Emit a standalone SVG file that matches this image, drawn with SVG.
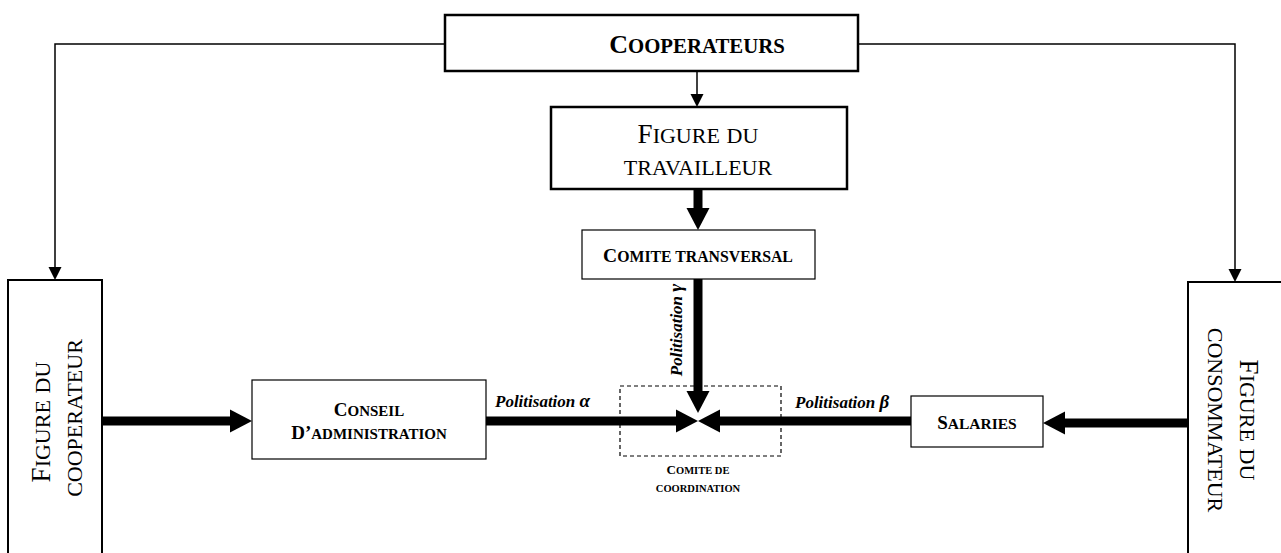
<svg xmlns="http://www.w3.org/2000/svg" width="1281" height="553" viewBox="0 0 1281 553">
<style>
text{font-family:"Liberation Serif","Times New Roman",serif;fill:#000}
.b{font-weight:bold}
.m{text-anchor:middle}
.box{fill:#fff;stroke:#000}
.thin{fill:none;stroke:#000;stroke-width:1.5}
.thick{fill:none;stroke:#000;stroke-width:9}
.pol{font-weight:bold;font-style:italic;font-size:17px}
.gr{font-size:19px}
</style>
<defs>
<marker id="ah" markerUnits="userSpaceOnUse" markerWidth="14" markerHeight="14" refX="0" refY="6.5" orient="auto" overflow="visible">
<path d="M0,0 L13,6.5 L0,13 z" fill="#000"/>
</marker>
<marker id="AH" markerUnits="userSpaceOnUse" markerWidth="23" markerHeight="24" refX="0" refY="11.5" orient="auto" overflow="visible">
<path d="M0,0 L22,11.5 L0,23 z" fill="#000"/>
</marker>
</defs>
<rect width="1281" height="553" fill="#fff"/>

<g id="connectors">
<polyline class="thin" points="445,44 55,44 55,267" marker-end="url(#ah)"/>
<polyline class="thin" points="858,44 1235,44 1235,269" marker-end="url(#ah)"/>
<line class="thin" x1="697" y1="71" x2="697" y2="94" marker-end="url(#ah)"/>
<line class="thick" x1="698" y1="189" x2="698" y2="208" marker-end="url(#AH)"/>
<line class="thick" x1="698" y1="279" x2="698" y2="391" marker-end="url(#AH)"/>
<line class="thick" x1="102" y1="421" x2="230" y2="421" marker-end="url(#AH)"/>
<line class="thick" x1="486" y1="421" x2="676" y2="421" marker-end="url(#AH)"/>
<line class="thick" x1="911" y1="421" x2="720" y2="421" marker-end="url(#AH)"/>
<line class="thick" x1="1188" y1="423" x2="1065" y2="423" marker-end="url(#AH)"/>
<text class="pol" x="495" y="407">Politisation <tspan class="gr">α</tspan></text>
<text class="pol" x="795" y="408">Politisation <tspan class="gr">β</tspan></text>
<text class="pol m" transform="translate(682,330) rotate(-90)">Politisation <tspan class="gr">γ</tspan></text>
</g>

<g id="cooperateurs">
<rect class="box" x="445" y="15" width="413" height="56" stroke-width="2.5"/>
<text class="b m" x="697" y="53" font-size="26">C<tspan font-size="20.8">OOPERATEURS</tspan></text>
</g>

<g id="figure-travailleur">
<rect class="box" x="551" y="107" width="296" height="82" stroke-width="2.5"/>
<text class="m" x="698" y="143" font-size="27">F<tspan font-size="22">IGURE</tspan> <tspan font-size="22">DU</tspan></text>
<text class="m" x="698" y="175" font-size="22">TRAVAILLEUR</text>
</g>

<g id="comite-transversal">
<rect class="box" x="582" y="230" width="233" height="49" stroke-width="1.2"/>
<text class="b m" x="698" y="262" font-size="19.5">C<tspan font-size="15.8">OMITE TRANSVERSAL</tspan></text>
</g>

<g id="figure-cooperateur">
<rect class="box" x="8" y="280" width="94" height="300" stroke-width="2"/>
<text class="m" transform="translate(50,422) rotate(-90)" font-size="27">F<tspan font-size="22">IGURE</tspan> <tspan font-size="22">DU</tspan></text>
<text class="m" transform="translate(82,418) rotate(-90)" font-size="22">COOPERATEUR</text>
</g>

<g id="conseil">
<rect class="box" x="252" y="380" width="234" height="79" stroke-width="1.2"/>
<text class="b m" x="369" y="416" font-size="19">C<tspan font-size="15">ONSEIL</tspan></text>
<text class="b m" x="369" y="439" font-size="19">D’<tspan font-size="15">ADMINISTRATION</tspan></text>
</g>

<g id="comite-coordination">
<rect x="620" y="386" width="161" height="70" fill="none" stroke="#000" stroke-width="1.2" stroke-dasharray="4,3"/>
<text class="b m" x="698" y="474" font-size="13">C<tspan font-size="10.5">OMITE DE</tspan></text>
<text class="b m" x="698" y="492" font-size="10.5">COORDINATION</text>
</g>

<g id="salaries">
<rect class="box" x="911" y="396" width="132" height="51" stroke-width="1.2"/>
<text class="b m" x="977" y="429" font-size="19">S<tspan font-size="15.5">ALARIES</tspan></text>
</g>

<g id="figure-consommateur">
<rect class="box" x="1188" y="282" width="100" height="300" stroke-width="2"/>
<text class="m" transform="translate(1240,420) rotate(90)" font-size="27">F<tspan font-size="22">IGURE</tspan> <tspan font-size="22">DU</tspan></text>
<text class="m" transform="translate(1208,420) rotate(90)" font-size="22">CONSOMMATEUR</text>
</g>
</svg>
